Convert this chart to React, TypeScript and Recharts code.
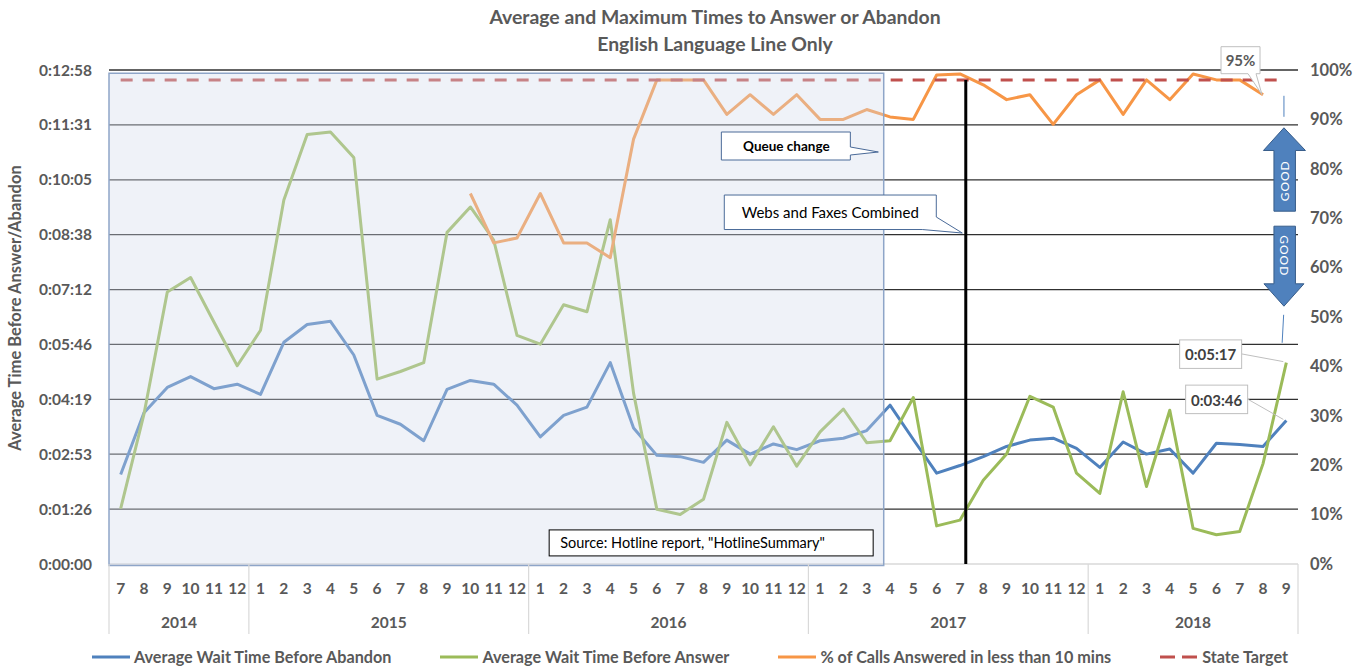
import React from "react";
import {
  LineChart,
  Line,
  XAxis,
  YAxis,
  CartesianGrid,
  ReferenceArea,
  ReferenceLine,
  ReferenceDot,
  Legend,
} from "recharts";

const FONT = "Lato, 'Open Sans', sans-serif";
const GREY = "#595959";

// month of each point, Jul 2014 .. Sep 2018
const months = [
  7, 8, 9, 10, 11, 12,
  1, 2, 3, 4, 5, 6, 7, 8, 9, 10, 11, 12,
  1, 2, 3, 4, 5, 6, 7, 8, 9, 10, 11, 12,
  1, 2, 3, 4, 5, 6, 7, 8, 9, 10, 11, 12,
  1, 2, 3, 4, 5, 6, 7, 8, 9,
];
const yearSpans: [string, number][] = [
  ["2014", 6],
  ["2015", 12],
  ["2016", 12],
  ["2017", 12],
  ["2018", 9],
];

// seconds
const abandonSec = [
  141, 238, 278, 295, 276, 283,
  267, 349, 377, 382, 329, 234, 220, 194, 275, 289, 283, 250,
  200, 234, 247, 317, 214, 171, 169, 160, 195, 173, 189, 180,
  194, 198, 210, 250, 196, 143, 155, 169, 185, 195, 198, 182,
  152, 192, 173, 181, 143, 190, 188, 185, 226,
];
const answerSec = [
  87, 236, 428, 451, 381, 312,
  368, 573, 676, 680, 640, 291, 303, 317, 522, 562, 510, 360,
  346, 408, 397, 542, 269, 86, 78, 102, 223, 156, 216, 154,
  208, 244, 191, 194, 262, 60, 69, 132, 173, 264, 247, 143,
  111, 271, 122, 242, 56, 46, 51, 158, 317,
];
// percent answered < 10 mins
const answeredPct = [
  null, null, null, null, null, null,
  null, null, null, null, null, null, null, null, null, 75, 65, 66,
  75, 65, 65, 62, 86, 98, 98, 98, 91, 95, 91, 95,
  90, 90, 92, 90.5, 90, 99, 99.2, 97, 94, 95, 89, 95,
  98, 91, 98, 94, 99.2, 98, 98, 95, null,
];
const stateTarget = 98;

const leftTicks = [0, 86.4, 172.8, 259.2, 345.6, 432, 518.4, 604.8, 691.2, 777.6];
const rightTicks = [0, 10, 20, 30, 40, 50, 60, 70, 80, 90, 100];

const legendItems = [
  { name: "Average Wait Time Before Abandon", color: "#4F81BD", dashed: false },
  { name: "Average Wait Time Before Answer", color: "#9BBB59", dashed: false },
  { name: "% of Calls Answered in less than 10 mins", color: "#F79646", dashed: false },
  { name: "State Target", color: "#C0504D", dashed: true },
];

const rows = months.map((m, i) => ({
  idx: i,
  month: m,
  abandon: abandonSec[i],
  answer: answerSec[i],
  pct: answeredPct[i],
  target: stateTarget,
}));

// year axis: separators + centred labels
const yearBounds: number[] = [-0.5];
const yearCenters = new Map<number, string>();
{
  let start = 0;
  yearSpans.forEach(([y, n]) => {
    yearCenters.set(start + (n - 1) / 2, y);
    start += n;
    yearBounds.push(start - 0.5);
  });
}
const yearTicks = [...yearBounds, ...yearCenters.keys()].sort((a, b) => a - b);

const fmtTime = (s: number) => {
  const t = Math.round(s);
  const h = Math.floor(t / 3600);
  const m = Math.floor((t % 3600) / 60);
  const sec = t % 60;
  return `${h}:${String(m).padStart(2, "0")}:${String(sec).padStart(2, "0")}`;
};

const MonthTick = (p: any) => (
  <text x={p.x} y={p.y + 24} textAnchor="middle" dominantBaseline="central"
    fontSize={15.5} fontWeight={700} fill={GREY}>
    {months[p.payload.value]}
  </text>
);

const YearTick = (p: any) => {
  const v = p.payload.value;
  if (yearBounds.includes(v)) {
    return <line x1={p.x} x2={p.x} y1={p.y - 34} y2={p.y + 36} stroke="#D9D9D9" strokeWidth={1.2} />;
  }
  return (
    <text x={p.x} y={p.y + 24} textAnchor="middle" dominantBaseline="central"
      fontSize={15.5} fontWeight={700} fill={GREY}>
      {yearCenters.get(v)}
    </text>
  );
};

const LeftTitle = (p: any) => {
  const vb = p.viewBox || {};
  const cy = (vb.y ?? 70) + (vb.height ?? 494) / 2 - 9;
  return (
    <text x={15} y={cy} transform={`rotate(-90 15 ${cy})`} textAnchor="middle"
      dominantBaseline="central" fontSize={16.5} fontWeight={700} fill={GREY}>
      Average Time Before Answer/Abandon
    </text>
  );
};

// callouts, drawn relative to the anchor point
const QueueCallout = ({ cx, cy }: any) => (
  <g>
    <path
      d={`M${cx - 157} ${cy - 20} H${cx - 28} V${cy - 5} L${cx} ${cy} L${cx - 28} ${cy + 3} V${cy + 8} H${cx - 157} Z`}
      fill="#fff" stroke="#4A6A98" strokeWidth={1} />
    <text x={cx - 92} y={cy - 6} textAnchor="middle" dominantBaseline="central"
      fontSize={13.5} fontWeight={700} fill="#000">Queue change</text>
  </g>
);

const WebsCallout = ({ cx, cy }: any) => (
  <g>
    <path
      d={`M${cx - 238} ${cy - 38} H${cx - 26} V${cy - 16} L${cx} ${cy} L${cx - 40} ${cy - 3.5} H${cx - 238} Z`}
      fill="#fff" stroke="#4A6A98" strokeWidth={1} />
    <text x={cx - 132} y={cy - 21} textAnchor="middle" dominantBaseline="central"
      fontSize={15} fill="#000">Webs and Faxes Combined</text>
  </g>
);

const SourceBox = ({ cx, cy }: any) => (
  <g>
    <rect x={cx} y={cy} width={324} height={26} fill="#fff" stroke="#000" strokeWidth={1} />
    <text x={cx + 11} y={cy + 13} dominantBaseline="central" fontSize={14.5} fill="#000">
      Source: Hotline report, "HotlineSummary"
    </text>
  </g>
);

const PctCallout = ({ cx, cy }: any) => (
  <g>
    <path
      d={`M${cx - 42} ${cy - 48} H${cx - 3} V${cy - 21} H${cx - 7} L${cx - 1} ${cy} L${cx - 15} ${cy - 21} H${cx - 42} Z`}
      fill="#fff" stroke="#BFBFBF" strokeWidth={1} />
    <text x={cx - 22.5} y={cy - 34.5} textAnchor="middle" dominantBaseline="central"
      fontSize={15} fontWeight={700} fill={GREY}>95%</text>
  </g>
);

const TimeCallout = (label: string, dx: number, dy: number) => ({ cx, cy }: any) => (
  <g>
    <line x1={cx + dx + 62} y1={cy + dy + 14} x2={cx - 3} y2={cy - 1} stroke="#BFBFBF" strokeWidth={1} />
    <rect x={cx + dx} y={cy + dy} width={62} height={28.5} fill="#fff" stroke="#BFBFBF" strokeWidth={1} />
    <text x={cx + dx + 31} y={cy + dy + 14.5} textAnchor="middle" dominantBaseline="central"
      fontSize={15} fontWeight={700} fill="#404040">{label}</text>
  </g>
);

const GoodArrows = ({ cx, cy }: any) => {
  const x = cx - 2.4;
  const up = `M${x} ${cy} L${x + 21.5} ${cy + 22.7} H${x + 11.5} V${cy + 83.4} H${x - 10} V${cy + 22.7} H${x - 20.5} Z`;
  const dn = `M${x - 10} ${cy + 98.4} H${x + 11.5} V${cy + 156} H${x + 20} L${x} ${cy + 178.4} L${x - 20} ${cy + 156} H${x - 10} Z`;
  return (
    <g>
      <line x1={x} x2={x} y1={cy - 32} y2={cy - 11} stroke="#4F81BD" strokeWidth={1} />
      <line x1={x - 0.3} x2={x - 1.8} y1={cy + 187} y2={cy + 215} stroke="#4F81BD" strokeWidth={1} />
      <path d={up} fill="#4F81BD" stroke="#385D8A" strokeWidth={1} />
      <path d={dn} fill="#4F81BD" stroke="#385D8A" strokeWidth={1} />
      <text x={x + 0.5} y={cy + 53} transform={`rotate(-90 ${x + 0.5} ${cy + 53})`} textAnchor="middle"
        dominantBaseline="central" fontSize={12} fill="#fff" letterSpacing={1}>GOOD</text>
      <text x={x + 0.5} y={cy + 128} transform={`rotate(90 ${x + 0.5} ${cy + 128})`} textAnchor="middle"
        dominantBaseline="central" fontSize={12} fill="#fff" letterSpacing={1}>GOOD</text>
    </g>
  );
};

const renderLegend = () => (
  <div style={{ display: "flex", justifyContent: "center", alignItems: "center", height: 21, gap: 49, paddingLeft: 16 }}>
    {legendItems.map((it) => (
      <div key={it.name} style={{ display: "flex", alignItems: "center", gap: 4 }}>
        <svg width={38} height={6}>
          {it.dashed ? (
            <line x1={0} x2={38} y1={3} y2={3} stroke={it.color} strokeWidth={3} strokeDasharray="15 7" />
          ) : (
            <line x1={0} x2={38} y1={3} y2={3} stroke={it.color} strokeWidth={3} />
          )}
        </svg>
        <span style={{ fontSize: 16.2, fontWeight: 700, color: GREY, whiteSpace: "nowrap" }}>{it.name}</span>
      </div>
    ))}
  </div>
);

export default function App() {
  return (
    <div style={{ position: "absolute", left: 0, top: 0, width: 1364, height: 668, background: "#fff", fontFamily: FONT }}>
      <div style={{ position: "absolute", left: 0, top: 3, width: 1430, textAlign: "center", color: GREY, fontWeight: 700, fontSize: 19.4, lineHeight: "27px" }}>
        <div>Average and Maximum Times to Answer or Abandon</div>
        <div>English Language Line Only</div>
      </div>
      <LineChart width={1364} height={668} data={rows} margin={{ top: 70, right: 0, bottom: 1, left: 0 }}>
        <CartesianGrid xAxisId="m" yAxisId="left" vertical={false}
          horizontalValues={leftTicks.slice(1)} stroke="#303030" strokeWidth={1.3} />
        <XAxis xAxisId="m" type="number" dataKey="idx" domain={[-0.5, 50.5]}
          ticks={rows.map((r) => r.idx)} interval={0} height={34}
          tickLine={false} tickSize={0} tickMargin={0}
          axisLine={{ stroke: "#D9D9D9", strokeWidth: 1.5 }} tick={<MonthTick />} />
        <XAxis xAxisId="yr" type="number" dataKey="idx" domain={[-0.5, 50.5]}
          ticks={yearTicks} interval={0} height={48}
          tickLine={false} tickSize={0} tickMargin={0} axisLine={false} tick={<YearTick />} />
        <YAxis yAxisId="left" orientation="left" width={109} domain={[0, 777.6]}
          ticks={leftTicks} interval={0} tickFormatter={fmtTime}
          axisLine={false} tickLine={false} tickSize={0} tickMargin={17}
          tick={{ fill: GREY, fontSize: 15.5, fontWeight: 700 }} label={<LeftTitle />} />
        <YAxis yAxisId="right" orientation="right" width={66} domain={[0, 100]}
          ticks={rightTicks} interval={0} tickFormatter={(v) => `${v}%`}
          axisLine={false} tickLine={false} tickSize={0} tickMargin={12}
          tick={{ fill: GREY, fontSize: 16.5, fontWeight: 700, textAnchor: "start" }} />
        <Legend verticalAlign="bottom" height={21} content={renderLegend} />

        <Line xAxisId="m" yAxisId="left" dataKey="abandon" stroke="#4F81BD" strokeWidth={3}
          strokeLinejoin="round" dot={false} activeDot={false} isAnimationActive={false} />
        <Line xAxisId="m" yAxisId="left" dataKey="answer" stroke="#9BBB59" strokeWidth={3}
          strokeLinejoin="round" dot={false} activeDot={false} isAnimationActive={false} />
        <Line xAxisId="m" yAxisId="right" dataKey="pct" stroke="#F79646" strokeWidth={3}
          strokeLinejoin="round" dot={false} activeDot={false} isAnimationActive={false} />
        <Line xAxisId="m" yAxisId="right" dataKey="target" stroke="#C0504D" strokeWidth={3}
          strokeDasharray="12 10" dot={false} activeDot={false} isAnimationActive={false} />

        <ReferenceArea xAxisId="m" yAxisId="right" x1={-0.5} x2={32.73} y1={-0.3} y2={99.35}
          ifOverflow="visible" fill="#D3DBEC" fillOpacity={0.36} stroke="#8EA5C8" strokeWidth={1.5}
          zIndex={1000} />
        <ReferenceLine xAxisId="m" yAxisId="right" segment={[{ x: 36.25, y: 98 }, { x: 36.25, y: 0 }]}
          stroke="#000" strokeWidth={3} ifOverflow="visible" zIndex={1100} />

        <ReferenceDot xAxisId="m" yAxisId="right" x={32.5} y={83.4} r={0} ifOverflow="visible"
          shape={QueueCallout} zIndex={1200} />
        <ReferenceDot xAxisId="m" yAxisId="right" x={36.1} y={67} r={0} ifOverflow="visible"
          shape={WebsCallout} zIndex={1200} />
        <ReferenceDot xAxisId="m" yAxisId="right" x={18.38} y={6.9} r={0} ifOverflow="visible"
          shape={SourceBox} zIndex={1200} />
        <ReferenceDot xAxisId="m" yAxisId="right" x={49} y={answeredPct[49] as number} r={0}
          ifOverflow="visible" shape={PctCallout} zIndex={1200} />
        <ReferenceDot xAxisId="m" yAxisId="left" x={50} y={answerSec[50]} r={0} ifOverflow="visible"
          shape={TimeCallout(fmtTime(answerSec[50]), -106.7, -22.7)} zIndex={1200} />
        <ReferenceDot xAxisId="m" yAxisId="left" x={50} y={abandonSec[50]} r={0} ifOverflow="visible"
          shape={TimeCallout(fmtTime(abandonSec[50]), -100.7, -35.3)} zIndex={1200} />
        <ReferenceDot xAxisId="m" yAxisId="right" x={50} y={88.3} r={0} ifOverflow="visible"
          shape={GoodArrows} zIndex={1200} />
      </LineChart>
    </div>
  );
}
